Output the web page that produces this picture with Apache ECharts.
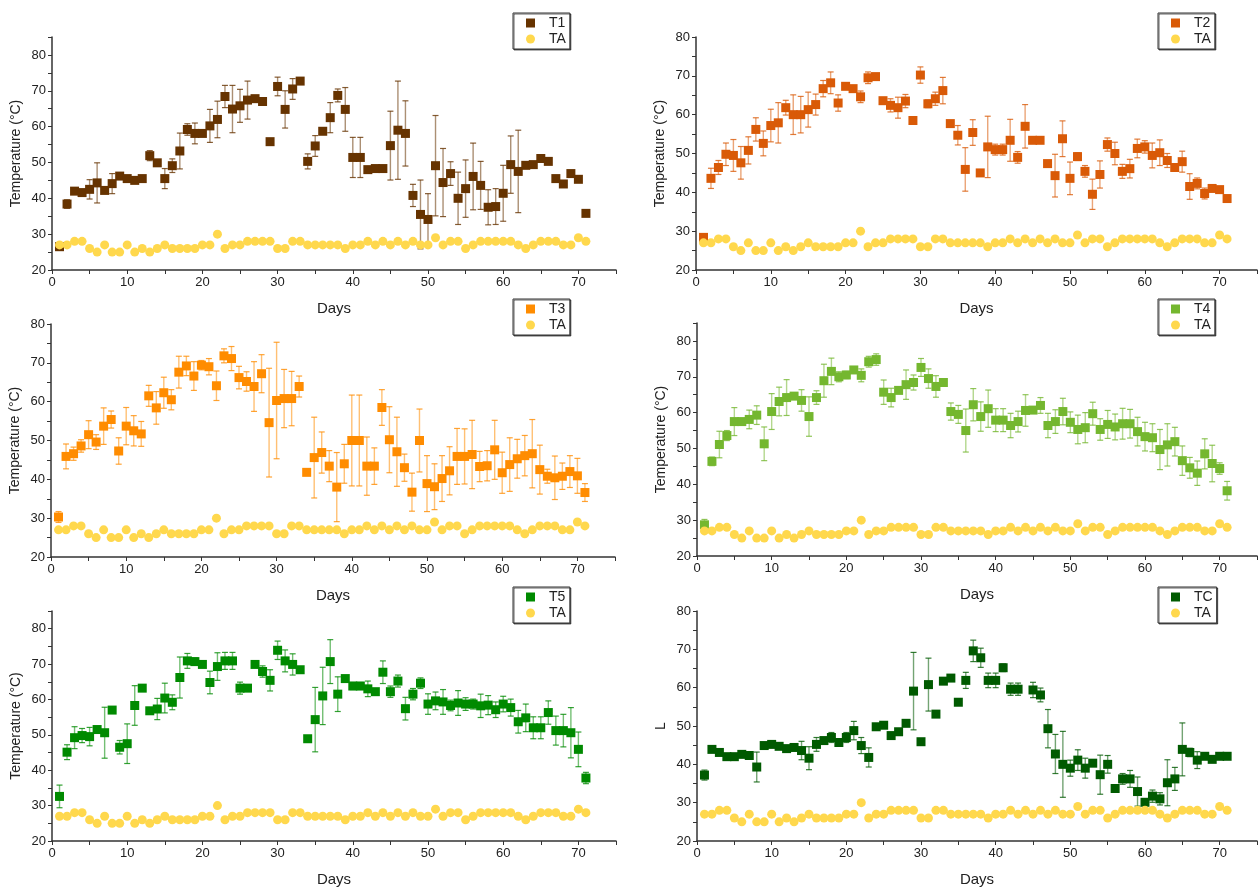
<!DOCTYPE html>
<html>
<head>
<meta charset="utf-8">
<script src="https://cdn.jsdelivr.net/npm/echarts@6/dist/echarts.min.js"></script>
<style>
    html, body { margin: 0; padding: 0; background: #fff; }
    #chart { width: 1260px; height: 888px; }
</style>
</head>
<body>
<div id="chart"></div>
<script>
    // days of the trial
    const days = [1, 2, 3, 4, 5, 6, 7, 8, 9, 10, 11, 12, 13, 14, 15, 16, 17, 18, 19, 20,
        21, 22, 23, 24, 25, 26, 27, 28, 29, 30, 31, 32, 33, 34, 35, 36, 37, 38, 39, 40,
        41, 42, 43, 44, 45, 46, 47, 48, 49, 50, 51, 52, 53, 54, 55, 56, 57, 58, 59, 60,
        61, 62, 63, 64, 65, 66, 67, 68, 69, 70, 71]

    // ambient temperature (same in every panel)
    const ta = [27, 27, 28, 28, 26, 25, 27, 25, 25, 27, 25, 26, 25, 26, 27, 26, 26, 26, 26, 27,
        27, 30, 26, 27, 27, 28, 28, 28, 28, 26, 26, 28, 28, 27, 27, 27, 27, 27, 26, 27,
        27, 28, 27, 28, 27, 28, 27, 28, 27, 27, 29, 27, 28, 28, 26, 27, 28, 28, 28, 28,
        28, 27, 26, 27, 28, 28, 28, 27, 27, 29, 28]

    const t1 = [26.5, 38.4, 42, 41.6, 42.5, 44.3, 42.2, 44.1, 46.2, 45.5, 45, 45.5, 51.9, 49.9, 45.5, 49.1, 53.2, 59.2, 58.1, 58.1,
        60.2, 62, 68.4, 64.9, 65.8, 67.4, 67.8, 67, 55.8, 71.2, 64.8, 70.5, 72.7, 50.3, 54.6, 58.7, 62.5, 68.7, 64.8, 51.4,
        51.4, 48, 48.3, 48.3, 54.7, 59, 58.1, 40.8, 35.5, 34.1, 49.1, 44.4, 46.9, 40, 42.7, 46.1, 43.6, 37.5, 37.7, 41.4,
        49.4, 47.5, 49.2, 49.4, 51.1, 50.3, 45.5, 44, 46.9, 45.3, 35.8]
    const t1Err = [1, 1.2, 0, 0, 2.7, 5.6, 0, 2.8, 0.5, 0, 0, 0, 1.4, 0.7, 2.8, 1.9, 5, 1.6, 2.9, 0,
        4.6, 5.1, 3.1, 6.6, 4.6, 5.3, 0.3, 0, 0, 2.6, 5.2, 2.9, 0, 2.1, 2.9, 0.5, 4.2, 1.8, 6.1, 5.6,
        5.6, 0, 0, 0, 9.6, 13.7, 9.1, 3.1, 9.6, 7.2, 14, 9.5, 3.3, 7.3, 8, 9.3, 6.7, 4.9, 5, 7.8,
        8, 11.5, 0, 0, 0, 0, 0, 0, 0, 0, 0]

    const t2 = [28.4, 43.6, 46.4, 49.8, 49.5, 47.6, 50.8, 56.2, 52.6, 57.2, 57.9, 61.8, 60, 60, 61.3, 62.6, 66.7, 68.2, 63, 67.3,
        66.7, 64.6, 69.5, 69.8, 63.6, 62.4, 61.8, 63.5, 58.5, 70.2, 62.8, 64.1, 66.2, 57.7, 54.7, 45.9, 55.4, 45, 51.7, 51,
        51, 53.4, 49, 57, 53.4, 53.4, 47.4, 44.3, 53.8, 43.6, 49.2, 45.4, 39.5, 44.6, 52.3, 50, 45.4, 46.1, 51.3, 51.7,
        49.5, 50.2, 48.2, 46.4, 47.9, 41.5, 42.3, 39.7, 41, 40.7, 38.4]
    const t2Err = [0.5, 2.6, 1.8, 2.9, 4.1, 4.2, 3.5, 3, 3.2, 4.2, 5.2, 1.9, 5.1, 4.7, 4.5, 2.7, 2.1, 2.8, 2.1, 0.8,
        0.5, 1.5, 1.5, 0, 0.5, 1.7, 2.7, 1.7, 0, 2.1, 1, 1.7, 3.4, 0, 2.5, 5.6, 3.3, 0.6, 7.9, 1.4,
        1.4, 5.4, 1.5, 5.6, 0, 0, 0.6, 5.5, 4.6, 4.2, 1, 1.5, 3.9, 3.5, 1.7, 2.9, 1.8, 2.4, 2.4, 1.6,
        3.2, 3.3, 1.8, 0, 2.7, 3.3, 1.4, 1.4, 0, 0, 0.8]

    const t3 = [30.3, 45.9, 46.6, 48.6, 51.5, 49.6, 53.7, 55.4, 47.3, 53.7, 52.5, 51.7, 61.5, 58.4, 62.3, 60.5, 67.6, 69.2, 66.6, 69.4,
        69, 64.1, 71.8, 71.1, 66.2, 65.2, 63.9, 67.2, 54.6, 60.3, 60.8, 60.8, 63.9, 41.8, 45.6, 46.9, 43.4, 38, 44, 50,
        50, 43.4, 43.4, 58.5, 50.2, 47.1, 43, 36.7, 50, 38.9, 38.1, 40.2, 42.2, 45.9, 45.9, 46.4, 43.3, 43.5, 47.6, 41.7,
        43.8, 45.3, 46.1, 46.6, 42.5, 40.8, 40.4, 40.8, 42, 40.9, 36.6]
    const t3Err = [1.4, 3.2, 1.7, 1.6, 3.6, 1.9, 4.7, 2.2, 3.4, 4.8, 3.9, 3.2, 2.7, 4.2, 4, 2.6, 4.1, 2.5, 3.7, 1.2,
        2.1, 3.8, 1.8, 3.1, 2.9, 2.5, 6.4, 4.9, 14, 15, 7.5, 7, 2.7, 0, 10.4, 5.3, 4, 8.9, 5, 11.7,
        11.7, 7.5, 4.7, 4.6, 8.5, 8.9, 3.5, 4.9, 8.1, 7.2, 5.9, 5.9, 6.2, 7.2, 7.1, 8.8, 3.9, 3.9, 7.6, 5.3,
        6.9, 5, 5.2, 8.8, 6.3, 1.8, 5.6, 3.4, 4.1, 4.5, 2.3]

    const t4 = [28.7, 46.4, 51.1, 53.6, 57.5, 57.5, 58.1, 59.3, 51.3, 60.3, 63.1, 64.2, 64.6, 63.4, 58.9, 64.2, 68.9, 71.5, 70, 70.5,
        71.9, 70.4, 74.2, 74.8, 65.7, 64.2, 66.2, 67.8, 68.4, 72.6, 69.5, 67.3, 68.4, 60.3, 59.5, 55, 62.2, 58.9, 61.1, 57.9,
        57.9, 56.4, 57.5, 60.6, 60.7, 62, 56.4, 57.5, 60.3, 57.3, 55.3, 55.8, 59.7, 55.3, 56.7, 56, 56.9, 56.9, 54.7, 53.3,
        53, 49.7, 51, 51.9, 46.6, 44.6, 43.1, 48.5, 45.8, 44.4, 38.2]
    const t4Err = [1.5, 1.2, 3.7, 1.4, 3.9, 0, 2.6, 2.6, 4.7, 5, 4, 5, 0.7, 3, 5.5, 1.9, 4.6, 3.7, 1.4, 1,
        0.5, 1.8, 1.5, 1.6, 3.4, 2.6, 0, 4.1, 2.1, 2.5, 2.7, 3, 1, 2.4, 2.5, 6, 4.5, 4.1, 5.2, 3.2,
        3.2, 3.4, 2.9, 4.4, 0.5, 2.2, 3.4, 3.3, 3.7, 2.9, 4, 4.2, 3.2, 3, 3.9, 3.6, 4.3, 4, 4, 4,
        3.9, 5.6, 5.9, 4, 4.1, 2.9, 3.4, 4.2, 5.1, 1.6, 2.6]

    const t5 = [32.6, 45.1, 49.2, 49.8, 49.5, 51.5, 50.6, 57, 46.5, 47.5, 58.3, 63.2, 56.8, 57.3, 60.4, 59.2, 66.2, 70.9, 70.7, 69.9,
        64.8, 69.3, 70.9, 70.9, 63.2, 63.2, 69.9, 67.9, 65.4, 73.9, 70.9, 69.9, 68.4, 48.9, 54.3, 61, 70.7, 61.5, 65.9, 63.8,
        63.8, 63, 62.2, 67.7, 62.2, 65.2, 57.4, 61.5, 64.6, 58.7, 59.6, 59.3, 58.3, 59, 58.7, 58.7, 58.2, 58.4, 57.1, 58.7,
        57.7, 53.7, 54.8, 52, 52, 56.3, 51.2, 51.2, 50.6, 45.9, 37.8]
    const t5Err = [3.2, 2.1, 3.1, 2, 2.6, 0, 7.2, 0, 1.9, 5.6, 5.6, 0, 0, 3, 4.2, 2.1, 5.8, 2.1, 1, 0,
        3.2, 3.9, 2.4, 2.4, 1.7, 0, 0, 1.6, 3, 2.6, 3.1, 3, 0, 0, 9.1, 8.1, 6.2, 4.9, 0, 1,
        1, 2.2, 0, 3.2, 1.6, 1.7, 3.2, 1.6, 1.5, 2.9, 2.5, 3.5, 1.5, 3.5, 1.8, 1.4, 3.3, 2.7, 2.2, 2.2,
        2.4, 3.2, 3.9, 3.1, 3.1, 3.3, 4.1, 4.6, 7.1, 4.9, 1.6]

    const tc = [37.2, 43.9, 43.1, 42, 42, 42.6, 42.3, 39.3, 44.9, 45.2, 44.7, 44.1, 44.4, 43.6, 41.6, 45.2, 46.2, 47, 45.7, 47,
        48.8, 44.9, 41.8, 49.8, 50.2, 47.5, 48.5, 50.7, 59.1, 45.9, 60.8, 53.1, 61.7, 62.5, 56.2, 61.9, 69.6, 67.8, 61.9, 61.9,
        65.2, 59.6, 59.6, null, 59.4, 58.1, 49.3, 42.7, 40, 39, 41.1, 39, 40.3, 37.3, 40, 33.7, 36.2, 36.2, 32.9, 30.1,
        31.7, 31, 35.2, 36.2, 43.9, 43.1, 41.1, 42.1, 41.3, 42.1, 42.1]
    const tcErr = [1.3, 0.6, 0.4, 0, 0, 0, 0, 3.9, 0, 0, 0, 0, 0, 2.4, 3, 1.8, 0.5, 1.3, 0, 1.3,
        2.4, 2.1, 2.5, 0, 0, 0, 0, 0.4, 10.1, 0, 6.9, 0, 0, 0.4, 0.4, 2.1, 2.8, 2.5, 1.9, 1.9,
        1, 1.6, 1.6, null, 2, 1.8, 5, 5.1, 8.6, 2.1, 2.7, 2.6, 0.7, 5.1, 2.3, 0, 1.4, 2.2, 3.8, 0.8,
        1.6, 1.6, 6, 3, 6.9, 1.1, 2.2, 0.8, 0, 0, 0]

    const taColor = '#ffd84d'
    const font = 'Arial, "Liberation Sans", sans-serif'

    const panels = [
        {name: 'T1', vals: t1, errs: t1Err, color: '#663300', yMax: 85, yName: 'Temperature (°C)', left: 52, top: 37, legendLeft: 513, legendTop: 13},
        {name: 'T2', vals: t2, errs: t2Err, color: '#d95a07', yMax: 80, yName: 'Temperature (°C)', left: 696, top: 37, legendLeft: 1158, legendTop: 13},
        {name: 'T3', vals: t3, errs: t3Err, color: '#ff8c00', yMax: 80, yName: 'Temperature (°C)', left: 51, top: 324, legendLeft: 513, legendTop: 299},
        {name: 'T4', vals: t4, errs: t4Err, color: '#74b72f', yMax: 85, yName: 'Temperature (°C)', left: 697, top: 323, legendLeft: 1158, legendTop: 299},
        {name: 'T5', vals: t5, errs: t5Err, color: '#008a00', yMax: 85, yName: 'Temperature (°C)', left: 52, top: 611, legendLeft: 513, legendTop: 587},
        {name: 'TC', vals: tc, errs: tcErr, color: '#005a00', yMax: 80, yName: 'L', left: 697, top: 611, legendLeft: 1158, legendTop: 587}
    ]

    // error bar: vertical stem with caps
    function errorBar(color) {
        return function (params, api) {
            let x = api.value(0), v = api.value(1), e = api.value(2)
            if (isNaN(v) || isNaN(e) || !e) return
            let hi = api.coord([x, v + e])
            let lo = api.coord([x, v - e])
            let w = 3
            let stem = {stroke: color, lineWidth: 1.4, opacity: 0.55}
            let cap = {stroke: color, lineWidth: 1.2, opacity: 0.8}
            return {
                type: 'group',
                children: [
                    {type: 'line', shape: {x1: hi[0], y1: hi[1], x2: lo[0], y2: lo[1]}, style: stem},
                    {type: 'line', shape: {x1: hi[0] - w, y1: hi[1], x2: hi[0] + w, y2: hi[1]}, style: cap},
                    {type: 'line', shape: {x1: lo[0] - w, y1: lo[1], x2: lo[0] + w, y2: lo[1]}, style: cap}
                ]
            }
        }
    }

    let grid = [], xAxis = [], yAxis = [], legend = [], series = []

    panels.forEach(function (p, i) {
        grid.push({left: p.left, top: p.top, width: 564, height: 233})
        xAxis.push({
            type: 'value', gridIndex: i, min: 0, max: 75, interval: 5,
            name: 'Days', nameLocation: 'middle', nameGap: 31,
            nameTextStyle: {fontSize: 15, color: '#222', fontFamily: font},
            axisLine: {show: true, onZero: false, lineStyle: {color: '#333', width: 1.5}},
            axisTick: {show: true, length: 4, lineStyle: {color: '#333'}},
            axisLabel: {
                color: '#222', fontSize: 13, fontFamily: font, margin: 6,
                formatter: function (v) { return v % 10 === 0 ? v : '' }
            },
            splitLine: {show: false}
        })
        yAxis.push({
            type: 'value', gridIndex: i, min: 20, max: p.yMax, interval: 5,
            name: p.yName, nameLocation: 'middle', nameGap: 29,
            nameTextStyle: {fontSize: 14, color: '#222', fontFamily: font},
            axisLine: {show: true, onZero: false, lineStyle: {color: '#333', width: 1.5}},
            axisTick: {show: true, length: 4, lineStyle: {color: '#333'}},
            axisLabel: {
                color: '#222', fontSize: 13, fontFamily: font, margin: 6,
                formatter: function (v) { return v % 10 === 0 ? v : '' }
            },
            splitLine: {show: false}
        })
        legend.push({
            orient: 'vertical', left: p.legendLeft, top: p.legendTop,
            padding: [2, 4, 2, 13], itemGap: 0, itemWidth: 9, itemHeight: 9,
            backgroundColor: '#fff', borderColor: '#333', borderWidth: 1,
            shadowColor: 'rgba(0,0,0,0.6)', shadowOffsetX: 1, shadowOffsetY: 1, shadowBlur: 0,
            textStyle: {fontSize: 14, color: '#222', fontFamily: font, lineHeight: 16, padding: [0, 0, 0, 9]},
            data: [{name: p.name, icon: 'rect'}, {name: 'TA', icon: 'circle'}]
        })
        series.push({
            type: 'custom', xAxisIndex: i, yAxisIndex: i, z: 1, silent: true,
            renderItem: errorBar(p.color),
            encode: {x: 0, y: 1},
            data: days.map((d, k) => [d, p.vals[k], p.errs[k]])
        })
        series.push({
            name: p.name, type: 'scatter', xAxisIndex: i, yAxisIndex: i, z: 2,
            symbol: 'rect', symbolSize: 9,
            itemStyle: {color: p.color, opacity: 1},
            data: days.map((d, k) => [d, p.vals[k]])
        })
        series.push({
            name: 'TA', type: 'scatter', xAxisIndex: i, yAxisIndex: i, z: 3,
            symbol: 'circle', symbolSize: 9,
            itemStyle: {color: taColor, opacity: 1},
            data: days.map((d, k) => [d, ta[k]])
        })
    })

    let chart = echarts.init(document.getElementById('chart'))
    chart.setOption({
        backgroundColor: '#fff',
        animation: false,
        textStyle: {fontFamily: font},
        grid: grid,
        xAxis: xAxis,
        yAxis: yAxis,
        legend: legend,
        series: series
    })
</script>
</body>
</html>
